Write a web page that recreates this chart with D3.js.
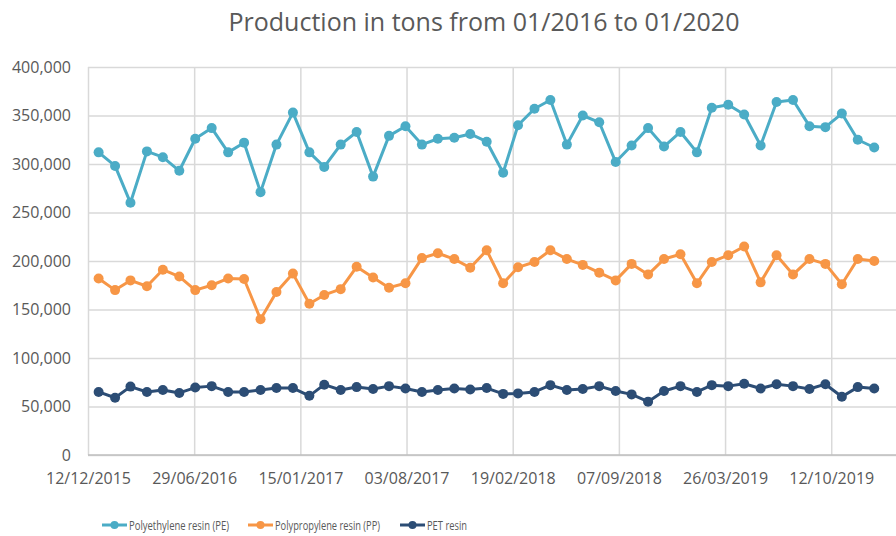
<!DOCTYPE html>
<html>
<head>
<meta charset="utf-8">
<script src="https://cdn.jsdelivr.net/npm/d3@7"></script>
<style>
  body { margin: 0; background: #fff; }
  svg { display: block; font-family: "Open Sans", sans-serif; }
</style>
</head>
<body>
<svg id="chart" width="896" height="536"></svg>
<script>
// Data (monthly, 01/2016 .. 01/2020)
const firstMonth = "01/01/2016";
const lastMonth = "01/01/2020";

const pe = [312000, 298000, 260000, 313000, 307000, 293000, 326000, 337000, 312000, 322000, 271000, 320000, 353000,
  312000, 297000, 320000, 333000, 287000, 329000, 339000, 320000, 326000, 327000, 331000, 323000, 291000,
  340000, 357000, 366000, 320000, 350000, 343000, 302000, 319000, 337000, 318000, 333000, 312000,
  358000, 361000, 351000, 319000, 364000, 366000, 339000, 338000, 352000, 325000, 317000];

const pp = [182000, 170000, 180000, 174000, 191000, 184000, 170000, 175000, 182000, 181500, 140000, 168000, 187000,
  156000, 165000, 171000, 194000, 183000, 172500, 177000, 203000, 208000, 202000, 193000, 211000, 177000,
  193500, 199000, 211000, 202000, 196000, 188000, 180000, 197000, 186000, 202000, 207000, 177000,
  199000, 206000, 215000, 178000, 206000, 186000, 202000, 197000, 176000, 202000, 200000];

const pet = [65000, 59000, 70500, 65000, 67000, 64000, 69500, 71000, 65000, 65000, 67000, 69000, 69000,
  61000, 72500, 67000, 70000, 68000, 71000, 68500, 65000, 67000, 68500, 67500, 69000, 63000,
  63500, 65000, 72000, 67000, 68000, 71000, 66000, 62500, 55000, 66000, 71000, 65000,
  72000, 71000, 73500, 68500, 73000, 71000, 68000, 73000, 60000, 70000, 68500];

const seriesNames = ["Polyethylene resin (PE)", "Polypropylene resin (PP)", "PET resin"];
const seriesColors = ["#4bacc6", "#f79646", "#2c4d75"];

// Tick labels (Excel date axis, every 200 days)
const xTickLabels = ["12/12/2015", "29/06/2016", "15/01/2017", "03/08/2017", "19/02/2018", "07/09/2018", "26/03/2019", "12/10/2019"];
const xAxisEnd = "11/02/2020";
const yTicks = [0, 50000, 100000, 150000, 200000, 250000, 300000, 350000, 400000];

const parse = d3.timeParse("%d/%m/%Y");
const months = d3.timeMonth.range(parse(firstMonth), d3.timeDay.offset(parse(lastMonth), 1));

const svg = d3.select("#chart");
const plotLeft = 88, plotRight = 896, plotTop = 67, plotBottom = 455;

const x = d3.scaleTime()
  .domain([parse(xTickLabels[0]), parse(xAxisEnd)])
  .range([plotLeft, plotRight]);

const y = d3.scaleLinear()
  .domain([0, 400000])
  .range([plotBottom, plotTop]);

// Title
svg.append("text")
  .attr("x", 484)
  .attr("y", 31)
  .attr("text-anchor", "middle")
  .style("font-size", "25px")
  .style("fill", "#595959")
  .text("Production in tons from 01/2016 to 01/2020");

// Horizontal grid + y labels
const yAxis = d3.axisLeft(y)
  .tickValues(yTicks)
  .tickSize(-(plotRight - plotLeft))
  .tickPadding(17)
  .tickFormat(d3.format(","));

svg.append("g")
  .attr("transform", `translate(${plotLeft},0)`)
  .call(yAxis)
  .call(g => g.select(".domain").remove())
  .call(g => g.selectAll(".tick line").attr("stroke", "#d9d9d9").attr("stroke-width", 1.5))
  .call(g => g.selectAll(".tick text").style("font-size", "16px").style("fill", "#595959").attr("font-family", "Open Sans"));

// Vertical grid + x labels
const xAxis = d3.axisBottom(x)
  .tickValues(xTickLabels.map(parse))
  .tickSize(-(plotBottom - plotTop))
  .tickPadding(18)
  .tickFormat(d3.timeFormat("%d/%m/%Y"));

svg.append("g")
  .attr("transform", `translate(0,${plotBottom})`)
  .call(xAxis)
  .call(g => g.select(".domain").remove())
  .call(g => g.selectAll(".tick line").attr("stroke", "#d9d9d9").attr("stroke-width", 1.5))
  .call(g => g.selectAll(".tick text").style("font-size", "16px").style("fill", "#595959").attr("font-family", "Open Sans"));

// Zero axis line
svg.append("line")
  .attr("x1", plotLeft).attr("x2", plotRight)
  .attr("y1", y(0)).attr("y2", y(0))
  .attr("stroke", "#bfbfbf")
  .attr("stroke-width", 1.5);

// Series
const allSeries = [pe, pp, pet];
const line = d3.line()
  .x((d, i) => x(months[i]))
  .y(d => y(d));

allSeries.forEach((values, s) => {
  const g = svg.append("g");
  g.append("path")
    .datum(values)
    .attr("d", line)
    .attr("fill", "none")
    .attr("stroke", seriesColors[s])
    .attr("stroke-width", 3)
    .attr("stroke-linejoin", "round");
  g.selectAll("circle")
    .data(values)
    .join("circle")
    .attr("cx", (d, i) => x(months[i]))
    .attr("cy", d => y(d))
    .attr("r", 5)
    .attr("fill", seriesColors[s]);
});

// Legend (Calibri is narrow, so squeeze the labels to the same width)
const legendX = [102, 248, 400];
const legendTextWidth = [100, 105, 40];
const legend = svg.append("g");
seriesNames.forEach((name, s) => {
  const g = legend.append("g").attr("transform", `translate(${legendX[s]},525)`);
  g.append("line")
    .attr("x1", 0).attr("x2", 25)
    .attr("stroke", seriesColors[s])
    .attr("stroke-width", 3);
  g.append("circle")
    .attr("cx", 12.5)
    .attr("r", 4)
    .attr("fill", seriesColors[s]);
  g.append("text")
    .attr("x", 27)
    .attr("dy", "0.35em")
    .attr("textLength", legendTextWidth[s])
    .attr("lengthAdjust", "spacingAndGlyphs")
    .style("font-size", "13px")
    .style("fill", "#595959")
    .text(name);
});
</script>
</body>
</html>
